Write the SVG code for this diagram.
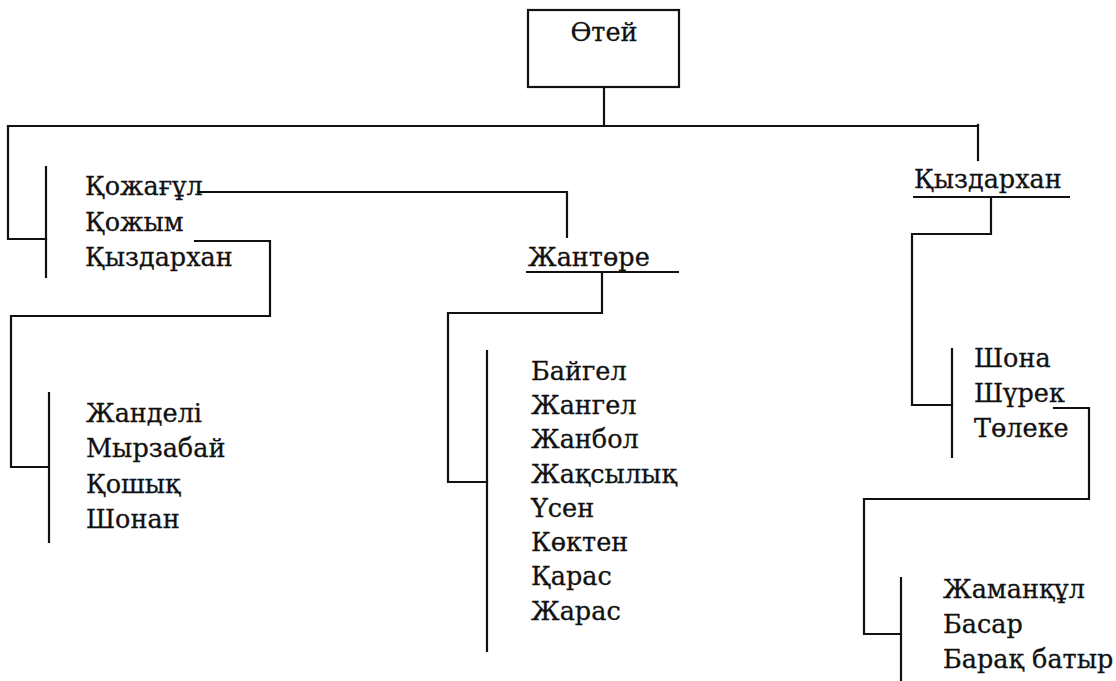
<svg xmlns="http://www.w3.org/2000/svg" width="1116" height="681" viewBox="0 0 1116 681">
<rect width="1116" height="681" fill="#fff"/>
<g id="connectors" fill="none" stroke="#111" stroke-width="2.2" stroke-linecap="square">
<path d="M604 87V125"/>
<path d="M8 126H978"/>
<path d="M8 126V239H46"/>
<path d="M978 125V160"/>
<path d="M198 192H567V237"/>
<path d="M602 272V313H448V482H487"/>
<path d="M195 241H270V316H11V467H48"/>
<path d="M991 197V234H912V405H952"/>
<path d="M1054 408H1089V499H864V634H901"/>
</g>
<g id="node-otei">
<rect x="528" y="10" width="151" height="77" fill="#fff" stroke="#111" stroke-width="2.2"/>
<text font-family="DejaVu Serif" font-size="25.5" fill="#111" stroke="#111" stroke-width="0.3" x="604" y="41" text-anchor="middle">Өтей</text>
</g>
<g id="node-group1" font-family="DejaVu Serif" font-size="25.5" fill="#111" stroke-width="0.3">
<path d="M46 166V278" fill="none" stroke="#111" stroke-width="2.2"/>
<text stroke="#111" x="85" y="195">Қожағұл</text>
<text stroke="#111" x="85" y="231">Қожым</text>
<text stroke="#111" x="85" y="266">Қыздархан</text>
</g>
<g id="node-jantore" font-family="DejaVu Serif" font-size="25.5" fill="#111" stroke-width="0.3">
<text stroke="#111" x="528" y="266">Жантөре</text>
<path d="M526 272H679" fill="none" stroke="#111" stroke-width="2.2"/>
</g>
<g id="node-kyzdarkhan" font-family="DejaVu Serif" font-size="25.5" fill="#111" stroke-width="0.3">
<text stroke="#111" x="914" y="188">Қыздархан</text>
<path d="M913 197H1070" fill="none" stroke="#111" stroke-width="2.2"/>
</g>
<g id="node-group2" font-family="DejaVu Serif" font-size="25.5" fill="#111" stroke-width="0.3">
<path d="M49 392V543" fill="none" stroke="#111" stroke-width="2.2"/>
<text stroke="#111" x="86" y="422">Жанделі</text>
<text stroke="#111" x="86" y="457">Мырзабай</text>
<text stroke="#111" x="86" y="493">Қошық</text>
<text stroke="#111" x="86" y="528">Шонан</text>
</g>
<g id="node-group3" font-family="DejaVu Serif" font-size="25.5" fill="#111" stroke-width="0.3">
<path d="M487 350V652" fill="none" stroke="#111" stroke-width="2.2"/>
<text stroke="#111" x="531" y="380">Байгел</text>
<text stroke="#111" x="531" y="414">Жангел</text>
<text stroke="#111" x="531" y="448">Жанбол</text>
<text stroke="#111" x="531" y="483">Жақсылық</text>
<text stroke="#111" x="531" y="517">Үсен</text>
<text stroke="#111" x="531" y="551">Көктен</text>
<text stroke="#111" x="531" y="585">Қарас</text>
<text stroke="#111" x="531" y="620">Жарас</text>
</g>
<g id="node-group4" font-family="DejaVu Serif" font-size="25.5" fill="#111" stroke-width="0.3">
<path d="M952 348V458" fill="none" stroke="#111" stroke-width="2.2"/>
<text stroke="#111" x="974" y="367">Шона</text>
<text stroke="#111" x="974" y="402">Шүрек</text>
<text stroke="#111" x="974" y="437">Төлеке</text>
</g>
<g id="node-group5" font-family="DejaVu Serif" font-size="25.5" fill="#111" stroke-width="0.3">
<path d="M901 577V681" fill="none" stroke="#111" stroke-width="2.2"/>
<text stroke="#111" x="943" y="598">Жаманқұл</text>
<text stroke="#111" x="943" y="633">Басар</text>
<text stroke="#111" x="943" y="668">Барақ батыр</text>
</g>
</svg>
